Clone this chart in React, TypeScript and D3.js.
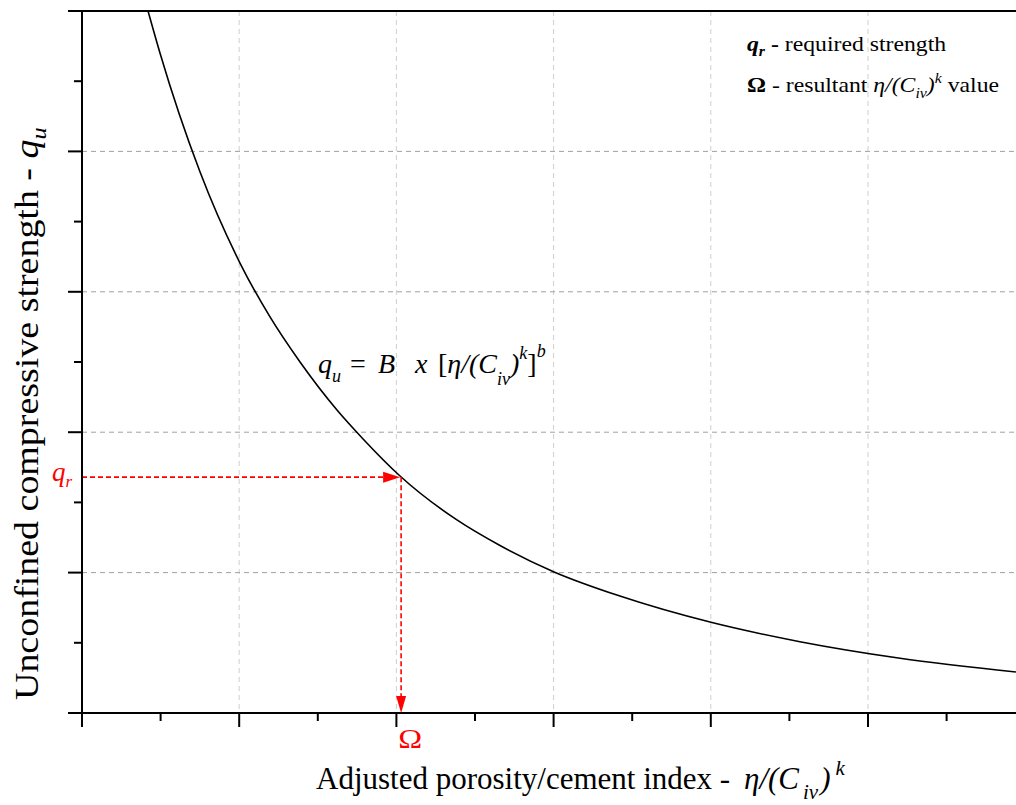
import React from 'react';
import * as d3 from 'd3';

// Curve (x in index units, q in strength units)
const curveX = [0.420, 0.496, 0.751, 1.005, 1.196, 1.387, 1.622, 1.788, 2.023, 2.385, 2.659, 3.003, 3.422, 4.001, 4.567, 5.204, 5.941];
const curveQ = [5.000, 4.701, 3.853, 3.205, 2.821, 2.500, 2.158, 1.952, 1.688, 1.375, 1.193, 1.005, 0.833, 0.646, 0.508, 0.390, 0.292];
const xMajorTicks = [0, 1, 2, 3, 4, 5];
const xMinorTicks = [0.5, 1.5, 2.5, 3.5, 4.5, 5.5];
const yMajorTicks = [0, 1, 2, 3, 4, 5];
const yMinorTicks = [0.5, 1.5, 2.5, 3.5, 4.5];
const xGrid = [1, 2, 3, 4, 5];
const yGrid = [1, 2, 3, 4];
const qRequired = 1.68;
const omegaValue = 2.03;

const W = 1016;
const H = 805;
const FONT = '"Liberation Serif", "Times New Roman", serif';
const RED = '#ff0000';

export default function App() {
  const x = d3.scaleLinear().domain([0, 6]).range([82, 82 + 6 * 157.2]);
  const y = d3.scaleLinear().domain([0, 5]).range([713, 11]);
  const left = x(0);
  const bottom = y(0);
  const top = y(5);
  const right = W;

  const pts: [number, number][] = curveX.map((v, i) => [v, curveQ[i]]);
  const line = d3
    .line<[number, number]>()
    .x((d) => x(d[0]))
    .y((d) => y(d[1]))
    .curve(d3.curveMonotoneX);

  const ox = x(omegaValue);
  const qy = y(qRequired);

  return (
    <svg
      width={W}
      height={H}
      style={{ position: 'absolute', left: 0, top: 0, background: '#fff' }}
      fontFamily={FONT}
    >
      <defs>
        <clipPath id="plot">
          <rect x={left} y={top} width={right - left} height={bottom - top} />
        </clipPath>
      </defs>
      <rect x={0} y={0} width={W} height={H} fill="#fff" />

      {/* grid */}
      {xGrid.map((t) => (
        <line key={'gx' + t} x1={x(t)} x2={x(t)} y1={top} y2={bottom} stroke="#cfcfcf" strokeWidth={1} strokeDasharray="5,4" />
      ))}
      {yGrid.map((t) => (
        <line key={'gy' + t} x1={left} x2={right} y1={y(t)} y2={y(t)} stroke="#a0a0a0" strokeWidth={1} strokeDasharray="5,4" />
      ))}

      {/* curve */}
      <path d={line(pts) || ''} fill="none" stroke="#000" strokeWidth={1.6} clipPath="url(#plot)" />

      {/* red guide lines */}
      <line x1={left} x2={ox - 16} y1={qy} y2={qy} stroke={RED} strokeWidth={1.6} strokeDasharray="5,3" />
      <polygon points={`${ox - 1},${qy} ${ox - 18},${qy - 5.5} ${ox - 18},${qy + 5.5}`} fill={RED} />
      <line x1={ox} x2={ox} y1={qy} y2={bottom - 16} stroke={RED} strokeWidth={1.6} strokeDasharray="5,3" />
      <polygon points={`${ox},${bottom} ${ox - 5},${bottom - 17} ${ox + 5},${bottom - 17}`} fill={RED} />

      {/* axes */}
      <line x1={68} x2={right} y1={top} y2={top} stroke="#000" strokeWidth={2} />
      <line x1={68} x2={right} y1={bottom} y2={bottom} stroke="#000" strokeWidth={2} />
      <line x1={left} x2={left} y1={top} y2={bottom + 14} stroke="#000" strokeWidth={2} />
      {xMajorTicks.map((t) => (
        <line key={'xt' + t} x1={x(t)} x2={x(t)} y1={bottom} y2={bottom + 14} stroke="#000" strokeWidth={2} />
      ))}
      {xMinorTicks.map((t) => (
        <line key={'xm' + t} x1={x(t)} x2={x(t)} y1={bottom} y2={bottom + 8} stroke="#000" strokeWidth={2} />
      ))}
      {yMajorTicks.map((t) => (
        <line key={'yt' + t} x1={left - 14} x2={left} y1={y(t)} y2={y(t)} stroke="#000" strokeWidth={2} />
      ))}
      {yMinorTicks.map((t) => (
        <line key={'ym' + t} x1={left - 8} x2={left} y1={y(t)} y2={y(t)} stroke="#000" strokeWidth={2} />
      ))}

      {/* red labels */}
      <text x={52} y={481} fill={RED} fontSize={27} fontStyle="italic">
        q<tspan fontSize={17} dy={6}>r</tspan>
      </text>
      <text transform={`translate(${ox + 9},748) scale(1.15,1)`} x={0} y={0} fill={RED} fontSize={28} textAnchor="middle">Ω</text>

      {/* equation */}
      <text y={373} fontSize={28} fill="#000">
        <tspan x={318} fontStyle="italic">q</tspan>
        <tspan fontStyle="italic" fontSize={18} dy={9}>u</tspan>
        <tspan x={350} dy={-9}>=</tspan>
        <tspan x={378} fontStyle="italic">B</tspan>
        <tspan x={415} fontStyle="italic">x</tspan>
        <tspan x={438}>[</tspan>
        <tspan fontStyle="italic">η/(C</tspan>
        <tspan fontStyle="italic" fontSize={18} dy={12}>iv</tspan>
        <tspan fontStyle="italic" dy={-12}>)</tspan>
        <tspan fontStyle="italic" fontSize={18} dy={-14}>k</tspan>
        <tspan dy={14}>]</tspan>
        <tspan fontStyle="italic" fontSize={18} dy={-16}>b</tspan>
      </text>

      {/* legend */}
      <g transform="translate(747,0) scale(1.13,1)">
        <text x={0} y={51} fontSize={21} fill="#000">
          <tspan fontStyle="italic" fontWeight="bold">q</tspan>
          <tspan fontStyle="italic" fontWeight="bold" fontSize={14} dy={5}>r</tspan>
          <tspan fontWeight="bold" dy={-5}> -</tspan>
          <tspan> required strength</tspan>
        </text>
        <text x={0} y={92} fontSize={21} fill="#000">
          <tspan fontWeight="bold">Ω</tspan>
          <tspan> - resultant </tspan>
          <tspan fontStyle="italic">η/(C</tspan>
          <tspan fontStyle="italic" fontSize={14} dy={6}>iv</tspan>
          <tspan fontStyle="italic" dy={-6}>)</tspan>
          <tspan fontStyle="italic" fontSize={14} dy={-9}>k</tspan>
          <tspan dy={9}> value</tspan>
        </text>
      </g>

      {/* axis titles */}
      <text y={789} fontSize={31} fill="#000">
        <tspan x={316}>Adjusted porosity/cement index - </tspan>
        <tspan x={744} fontStyle="italic">η/(C</tspan>
        <tspan fontStyle="italic" fontSize={21} dx={4} dy={10}>iv</tspan>
        <tspan fontStyle="italic" dx={2} dy={-10}>)</tspan>
        <tspan fontStyle="italic" fontSize={21} dx={5} dy={-14}>k</tspan>
      </text>
      <text transform="translate(38,700) rotate(-90) scale(1.15,1)" x={0} y={0} fontSize={33} fill="#000">
        <tspan>Unconfined compressive strength - </tspan>
        <tspan fontStyle="italic">q</tspan>
        <tspan fontStyle="italic" fontSize={21} dy={8}>u</tspan>
      </text>
    </svg>
  );
}
